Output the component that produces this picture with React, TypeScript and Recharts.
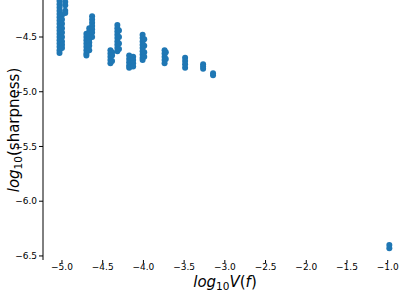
import { ScatterChart, Scatter, XAxis, YAxis, Label } from 'recharts';

// each column of points: one x (log10 V(f)) and its y values (log10 sharpness)
const colX = [
  -5.03, -5.0, -4.96, -4.7, -4.665, -4.63, -4.405, -4.385, -4.32, -4.3, -4.175, -4.126, -4.01,
  -3.99, -3.74, -3.725, -3.488, -3.267, -3.145, -0.98,
];

const colY1a = [-4.17, -4.2, -4.23, -4.26, -4.29, -4.32, -4.35, -4.38, -4.41, -4.44, -4.47, -4.5, -4.53, -4.56, -4.59, -4.62, -4.645];
const colY1b = [-4.3, -4.34, -4.38, -4.42, -4.46, -4.5, -4.54, -4.57, -4.6];
const colY1c = [-4.18, -4.21, -4.26, -4.28];
const colY2a = [-4.47, -4.5, -4.53, -4.56, -4.59, -4.62, -4.65, -4.67];
const colY2b = [-4.42, -4.45, -4.48, -4.52, -4.55, -4.58, -4.62];
const colY2c = [-4.31, -4.34, -4.37, -4.4, -4.43, -4.46, -4.5];
const colY3a = [-4.62, -4.65, -4.68, -4.71, -4.74];
const colY3b = [-4.64, -4.67, -4.72];
const colY3c = [-4.39, -4.42, -4.45, -4.48, -4.51, -4.54, -4.57, -4.6, -4.63];
const colY3d = [-4.44, -4.5, -4.56, -4.61];
const colY4a = [-4.67, -4.7, -4.73, -4.76, -4.78];
const colY4b = [-4.68, -4.71, -4.74, -4.77];
const colY5a = [-4.48, -4.51, -4.54, -4.57, -4.6, -4.63, -4.66, -4.69, -4.71];
const colY5b = [-4.52, -4.58, -4.64, -4.68];
const colY6a = [-4.62, -4.65, -4.68, -4.71, -4.74];
const colY6b = [-4.64, -4.7];
const colY7 = [-4.69, -4.72, -4.75, -4.78];
const colY8 = [-4.75, -4.77, -4.79];
const colY9 = [-4.83, -4.85];
const colY10 = [-6.4, -6.43];

const colY = [
  colY1a, colY1b, colY1c, colY2a, colY2b, colY2c, colY3a, colY3b, colY3c, colY3d, colY4a, colY4b,
  colY5a, colY5b, colY6a, colY6b, colY7, colY8, colY9, colY10,
];

const xTicks = [-5, -4.5, -4, -3.5, -3, -2.5, -2, -1.5, -1];
const yTicks = [-6.5, -6, -5.5, -5, -4.5];

const points = colX.flatMap((x, i) => colY[i].map((y) => ({ x, y })));

const font = 'DejaVu Sans';
const fmt = (v: number) => (v < 0 ? '\u2212' : '') + Math.abs(v).toFixed(1);

const Dot = (props: any) => <circle cx={props.cx} cy={props.cy} r={3} fill="#1f77b4" />;

const YLabel = () => (
  <text transform="translate(19, 130) rotate(-90)" textAnchor="middle" fontFamily={font} fontSize={15} fill="#000">
    <tspan fontStyle="italic">log</tspan>
    <tspan fontSize={10.5} dy={3}>10</tspan>
    <tspan dy={-3}>(sharpness)</tspan>
  </text>
);

const XLabel = () => (
  <text x={225} y={287} textAnchor="middle" fontFamily={font} fontSize={15} fill="#000">
    <tspan fontStyle="italic">log</tspan>
    <tspan fontSize={10.5} dy={3}>10</tspan>
    <tspan dy={-3} fontStyle="italic">V</tspan>
    <tspan>(</tspan>
    <tspan fontStyle="italic">f</tspan>
    <tspan>)</tspan>
  </text>
);

export default function App() {
  return (
    <div style={{ position: 'absolute', left: 0, top: 0, background: '#fff' }}>
      <ScatterChart width={408} height={292} margin={{ top: 0, right: 4, left: 0, bottom: 0 }}>
        <XAxis
          type="number"
          dataKey="x"
          domain={[-5.233, -0.8]}
          ticks={xTicks}
          allowDataOverflow
          height={32}
          axisLine={false}
          tickLine={{ stroke: '#000' }}
          tickSize={3}
          tickMargin={1}
          tickFormatter={fmt}
          tick={{ fill: '#000', fontSize: 9, fontFamily: font }}
        >
          <Label content={XLabel} />
        </XAxis>
        <YAxis
          type="number"
          dataKey="y"
          domain={[-6.537, -4.162]}
          ticks={yTicks}
          allowDataOverflow
          width={43}
          axisLine={{ stroke: '#000' }}
          tickLine={{ stroke: '#000' }}
          tickSize={4}
          tickMargin={2}
          tickFormatter={fmt}
          tick={{ fill: '#000', fontSize: 9, fontFamily: font }}
        >
          <Label content={YLabel} />
        </YAxis>
        <Scatter data={points} shape={Dot} isAnimationActive={false} />
      </ScatterChart>
    </div>
  );
}
